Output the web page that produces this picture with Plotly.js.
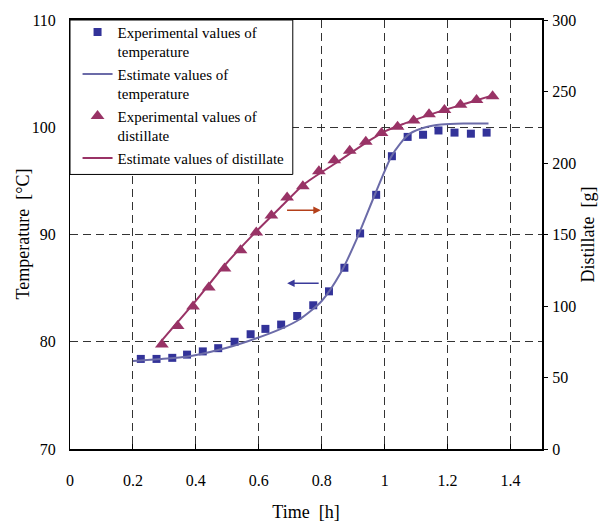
<!DOCTYPE html>
<html>
<head>
<meta charset="utf-8">
<script src="https://cdn.plot.ly/plotly-3.0.1.min.js"></script>
<style>
html,body{margin:0;padding:0;background:#fff;}
#chart{width:611px;height:525px;}
</style>
</head>
<body>
<div id="chart"></div>
<script>
// Experimental temperature
const tempTime = [0.225,0.275,0.325,0.372,0.422,0.471,0.523,0.574,0.621,0.671,0.722,0.773,0.823,0.872,0.922,0.973,1.023,1.073,1.122,1.171,1.222,1.274,1.324];
const tempExp  = [78.4,78.4,78.5,78.8,79.1,79.4,80.0,80.7,81.2,81.6,82.4,83.4,84.7,86.9,90.1,93.7,97.3,99.1,99.3,99.7,99.5,99.4,99.5];
// Estimated temperature
const tempEstTime = [0.20,0.29,0.37,0.48,0.57,0.67,0.73,0.80,0.86,0.91,0.97,1.02,1.05,1.08,1.13,1.18,1.25,1.33];
const tempEst     = [78.2,78.4,78.6,79.3,80.1,81.2,82.1,83.8,86.4,89.5,93.8,97.2,98.5,99.4,100.0,100.25,100.35,100.35];
// Experimental distillate
const distTime = [0.292,0.342,0.391,0.441,0.491,0.542,0.592,0.640,0.690,0.740,0.791,0.840,0.889,0.940,0.990,1.041,1.092,1.141,1.190,1.241,1.292,1.343];
const distExp  = [73.0,86.1,99.7,112.9,126.2,139.0,151.4,163.2,175.8,183.7,194.2,201.9,208.6,214.9,220.9,225.4,229.8,234.1,237.1,240.8,244.0,246.6];
// Estimated distillate
const distEstTime = [0.292,0.393,0.489,0.595,0.669,0.743,0.850,0.956,1.004,1.062,1.168,1.274,1.343];
const distEst     = [76.0,101.8,127.8,152.9,169.0,185.0,200.7,216.3,222.5,227.5,235.6,242.6,247.3];
// Names and axis labels
const seriesNames = ["Experimental values of<br>temperature","Estimate values of<br>temperature","Experimental values of<br>distillate","Estimate values of distillate"];
const xTitle = "Time\u00a0 [h]";
const yTitle = "Temperature\u00a0 [°C]";
const y2Title = "Distillate\u00a0 [g]";

const FONT = "Liberation Serif, Times New Roman, serif";
const BLUE = "#333399", EBLUE = "#6b6ba8", RED = "#993366";
const TICKFONT = {family: FONT, size: 16, color: "#000"};

const traces = [
  {x: tempTime, y: tempExp, name: seriesNames[0], mode: "markers", type: "scatter",
   marker: {symbol: "square", size: 8, color: BLUE}, yaxis: "y"},
  {x: tempEstTime, y: tempEst, name: seriesNames[1], mode: "lines", type: "scatter",
   line: {color: EBLUE, width: 2, shape: "spline", smoothing: 0.7}, yaxis: "y"},
  {x: distTime, y: distExp, name: seriesNames[2], mode: "markers", type: "scatter",
   marker: {symbol: "triangle-up", size: 12, color: RED}, yaxis: "y2"},
  {x: distEstTime, y: distEst, name: seriesNames[3], mode: "lines", type: "scatter",
   line: {color: RED, width: 2, shape: "spline", smoothing: 0.7}, yaxis: "y2"}
];

const layout = {
  width: 611, height: 525,
  margin: {l: 70, r: 69, t: 20, b: 76},
  paper_bgcolor: "#fff", plot_bgcolor: "#fff",
  font: {family: FONT, size: 16, color: "#000"},
  showlegend: true,
  legend: {x: 0.016, y: 1.01, xanchor: "left", yanchor: "top", xref: "paper", yref: "paper",
    bgcolor: "rgba(0,0,0,0)", borderwidth: 0, valign: "top", tracegroupgap: 0,
    font: {family: FONT, size: 15, color: "#000"}},
  xaxis: {range: [0, 1.5], tick0: 0, dtick: 0.2, ticks: "inside", ticklen: 5, tickcolor: "#000",
    showline: true, linecolor: "#000", linewidth: 2, mirror: true, tickfont: TICKFONT,
    showgrid: true, gridcolor: "#333", gridwidth: 1, griddash: "8px,5px", zeroline: false,
    ticklabelstandoff: 16,
    title: {text: xTitle, font: {family: FONT, size: 18}, standoff: 17}},
  yaxis: {range: [70, 110], dtick: 10, ticks: "", showline: true, linecolor: "#000", linewidth: 1,
    showgrid: true, gridcolor: "#333", gridwidth: 1, griddash: "8px,5px", zeroline: false,
    ticklabelstandoff: 10, tickfont: TICKFONT},
  yaxis2: {range: [0, 300], dtick: 50, overlaying: "y", side: "right", ticks: "outside", ticklen: 4,
    tickcolor: "#000", showline: true, linecolor: "#000", linewidth: 2, showgrid: false, zeroline: false,
    ticklabelstandoff: 1, tickfont: TICKFONT,
    title: {text: y2Title, font: {family: FONT, size: 18}, standoff: 6}},
  shapes: [
    {type: "rect", xref: "paper", yref: "paper", x0: 0, x1: 0.472, y0: 0.64, y1: 1,
     fillcolor: "#fff", line: {color: "#000", width: 1}, layer: "above"}
  ],
  annotations: [
    {text: yTitle, xref: "paper", yref: "paper", x: 0, y: 0.5, xshift: -48, textangle: -90,
     showarrow: false, xanchor: "center", yanchor: "middle", font: {family: FONT, size: 18, color: "#000"}},
    {x: 0.69, y: 85.45, ax: 0.795, ay: 85.45, xref: "x", yref: "y", axref: "x", ayref: "y",
     showarrow: true, arrowhead: 2, arrowsize: 1, arrowwidth: 1.5, arrowcolor: "#3a3a9a", text: ""},
    {x: 0.797, y: 92.25, ax: 0.685, ay: 92.25, xref: "x", yref: "y", axref: "x", ayref: "y",
     showarrow: true, arrowhead: 2, arrowsize: 1, arrowwidth: 1.5, arrowcolor: "#b4401a", text: ""}
  ]
};

Plotly.newPlot("chart", traces, layout, {displayModeBar: false, staticPlot: true});
</script>
</body>
</html>
